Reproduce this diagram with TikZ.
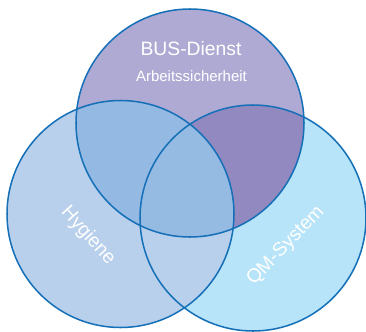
\documentclass[tikz,border=0pt]{standalone}
\usepackage{fontspec}
\setmainfont{Liberation Sans}
\definecolor{busfill}{HTML}{AFAAD4}
\definecolor{hygfill}{HTML}{B9D0EC}
\definecolor{qmfill}{HTML}{B7E4F8}
\definecolor{bushyg}{HTML}{94BAE3}
\definecolor{busqm}{HTML}{9189C0}
\definecolor{allthree}{HTML}{96BBE3}
\definecolor{ringblue}{HTML}{1570B8}
\begin{document}
\begin{tikzpicture}[x=0.03cm,y=-0.03cm,
  ring/.style={draw=ringblue,line width=1.3pt},
  label/.style={text=white,inner sep=0pt}]
\useasboundingbox (0,0) rectangle (366,331);
\fill[qmfill] (253,218) circle (113);
\fill[hygfill] (120.5,214) circle (113.5);
\fill[busfill] (190,123) circle (114);
\begin{scope}
\clip (190,123) circle (114);
\fill[bushyg] (120.5,214) circle (113.5);
\fill[busqm] (253,218) circle (113);
\clip (120.5,214) circle (113.5);
\fill[allthree] (253,218) circle (113);
\end{scope}
\draw[ring] (253,218) circle (113);
\draw[ring] (120.5,214) circle (113.5);
\draw[ring] (190,123) circle (114);
\node[label,font=\fontsize{16.5}{18}\selectfont] (bus) at (191,48.5) {BUS-Dienst};
\node[label,font=\fontsize{12.8}{14}\selectfont] (arbeit) at (191.5,76.5) {Arbeitssicherheit};
\node[label,font=\fontsize{16.5}{18}\selectfont,rotate=-48] (hyg) at (88,236) {Hygiene};
\node[label,font=\fontsize{16.5}{18}\selectfont,rotate=46] (qm) at (286,246) {QM-System};
\end{tikzpicture}
\end{document}
